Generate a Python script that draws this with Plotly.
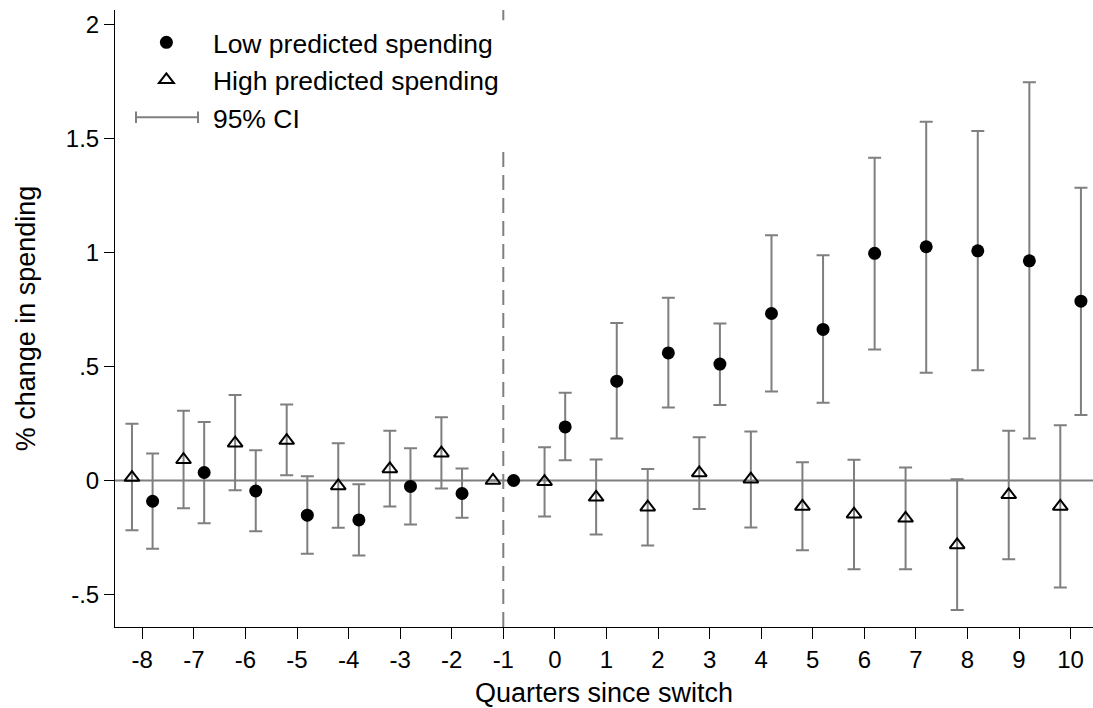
import plotly.graph_objects as go

quarters = [-8, -7, -6, -5, -4, -3, -2, -1, 0, 1, 2, 3, 4, 5, 6, 7, 8, 9, 10]

low_est = [-0.091, 0.035, -0.046, -0.152, -0.173, -0.026, -0.057, 0.0, 0.235, 0.436, 0.560, 0.511,
           0.733, 0.663, 0.997, 1.026, 1.008, 0.964, 0.787]
low_lo = [-0.300, -0.188, -0.223, -0.322, -0.329, -0.193, -0.164, None, 0.089, 0.184, 0.320, 0.331,
          0.391, 0.341, 0.575, 0.473, 0.484, 0.184, 0.288]
low_hi = [0.118, 0.257, 0.133, 0.019, -0.016, 0.142, 0.053, None, 0.385, 0.691, 0.802, 0.689,
          1.076, 0.989, 1.417, 1.575, 1.534, 1.748, 1.285]

high_est = [0.013, 0.091, 0.164, 0.175, -0.024, 0.051, 0.120, 0.0, -0.005, -0.074, -0.117, 0.033,
            0.006, -0.114, -0.148, -0.166, -0.283, -0.063, -0.114]
high_lo = [-0.218, -0.122, -0.043, 0.023, -0.207, -0.114, -0.035, None, -0.158, -0.237, -0.285, -0.125,
           -0.206, -0.306, -0.390, -0.390, -0.568, -0.346, -0.470]
high_hi = [0.249, 0.306, 0.375, 0.334, 0.164, 0.218, 0.278, None, 0.146, 0.092, 0.050, 0.190,
           0.215, 0.080, 0.091, 0.057, 0.006, 0.218, 0.243]

y_tickvals = [-0.5, 0, 0.5, 1, 1.5, 2]
y_ticktext = ["-.5", "0", ".5", "1", "1.5", "2"]

GRAY = "#7f7f7f"
FONT = "Liberation Sans"
OFFSET = 0.2
W, H = 1093, 708
ML, MR, MT, MB = 115, 0, 10, 81
PW, PH = W - ML - MR, H - MT - MB


def err_up(est, hi):
    return [None if h is None else h - e for e, h in zip(est, hi)]


def err_dn(est, lo):
    return [None if l is None else e - l for e, l in zip(est, lo)]


def px_x(p):
    return (p - ML) / PW


def px_y(p):
    return (H - MB - p) / PH


fig = go.Figure()

fig.add_trace(go.Scatter(
    x=[q + OFFSET for q in quarters], y=low_est, mode="markers",
    name="Low predicted spending",
    marker=dict(symbol="circle", size=13, color="black"),
    error_y=dict(type="data", symmetric=False, array=err_up(low_est, low_hi),
                 arrayminus=err_dn(low_est, low_lo), color=GRAY, thickness=2, width=6.5),
))

fig.add_trace(go.Scatter(
    x=[q - OFFSET for q in quarters], y=high_est, mode="markers",
    name="High predicted spending",
    marker=dict(symbol="triangle-up-open", size=13, color="black", line=dict(width=2, color="black")),
    error_y=dict(type="data", symmetric=False, array=err_up(high_est, high_hi),
                 arrayminus=err_dn(high_est, high_lo), color=GRAY, thickness=2, width=6.5),
))

# legend entry for the confidence intervals (its capped symbol is drawn below as shapes)
fig.add_trace(go.Scatter(
    x=[None], y=[None], mode="lines", name="95% CI",
    line=dict(color="rgba(0,0,0,0)", width=2),
))

# capped-range legend symbol
for seg in [(136, 117.3, 198, 117.3), (136, 111.5, 136, 123), (198, 111.5, 198, 123)]:
    fig.add_shape(type="line", xref="paper", yref="paper",
                  x0=px_x(seg[0]), y0=px_y(seg[1]), x1=px_x(seg[2]), y1=px_y(seg[3]),
                  line=dict(color=GRAY, width=2), layer="above")

# zero line
fig.add_shape(type="line", xref="paper", yref="y", x0=0, x1=1, y0=0, y1=0,
              line=dict(color=GRAY, width=2), layer="below")
# dashed reference line at quarter -1 (hidden behind the legend box)
fig.add_shape(type="line", xref="x", yref="y", x0=-1, x1=-1, y0=-0.643, y1=1.46,
              line=dict(color=GRAY, width=2, dash="15px,8px"), layer="below")
fig.add_shape(type="line", xref="x", yref="y", x0=-1, x1=-1, y0=2.02, y1=2.065,
              line=dict(color=GRAY, width=2, dash="15px,8px"), layer="below")

fig.update_layout(
    width=W, height=H,
    margin=dict(l=ML, r=MR, t=MT, b=MB),
    paper_bgcolor="white", plot_bgcolor="white",
    font=dict(family=FONT, color="black", size=24),
    showlegend=True,
    legend=dict(x=0.005, y=0.986, xanchor="left", yanchor="top",
                bgcolor="rgba(0,0,0,0)", borderwidth=0, itemwidth=83,
                font=dict(size=26.5, family=FONT, color="black")),
    xaxis=dict(range=[-8.529, 10.434], tickmode="array", tickvals=quarters,
               ticktext=[str(q) for q in quarters],
               showgrid=False, zeroline=False, showline=True, linecolor="black", linewidth=1,
               ticks="outside", ticklen=11, tickcolor="black", tickwidth=1,
               tickfont=dict(size=24),
               title=dict(text="Quarters since switch", font=dict(size=27), standoff=12)),
    yaxis=dict(range=[-0.643, 2.065], tickmode="array", tickvals=y_tickvals, ticktext=y_ticktext,
               showgrid=False, zeroline=False, showline=True, linecolor="black", linewidth=1,
               ticks="outside", ticklen=10, tickcolor="black", tickwidth=1,
               tickfont=dict(size=24),
               title=dict(text="% change in spending", font=dict(size=27), standoff=22)),
)

fig.write_html("out.html", config={"displayModeBar": False},
               post_script="document.body.style.margin='0';")
